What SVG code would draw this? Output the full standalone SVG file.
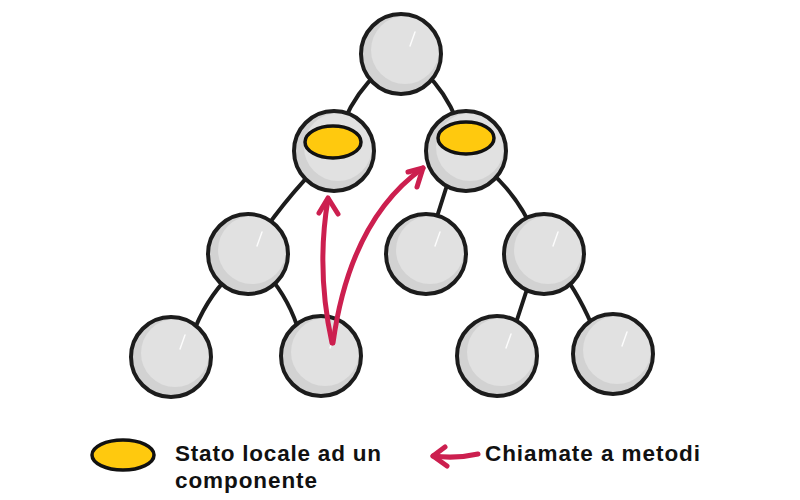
<svg xmlns="http://www.w3.org/2000/svg" xmlns:xlink="http://www.w3.org/1999/xlink" width="800" height="500" viewBox="0 0 800 500">
<style>
.edge{fill:none;stroke:#1c1c1c;stroke-width:4;stroke-linecap:round}
.call{fill:none;stroke:#cc1f4f;stroke-width:5;stroke-linecap:round;stroke-linejoin:round}
.state{fill:#ffc90e;stroke:#111;stroke-width:3.5}
.lbl{font-family:"Liberation Sans",Arial,sans-serif;font-weight:700;font-size:22.5px;fill:#111}
</style>
<defs>
<g id="ball">
<circle r="40" fill="#d2d2d2"/>
<circle cx="4" cy="-4" r="34" fill="#e1e1e1"/>
<path d="M14,-22 L9,-8" stroke="#fff" stroke-width="1.5" stroke-linecap="round" opacity="0.9"/>
<circle r="40" fill="none" stroke="#1c1c1c" stroke-width="4"/>
</g>
</defs>
<rect width="800" height="500" fill="#fff"/>
<g id="connectors">
<path class="edge" d="M402,55 Q350,85 334,151"/>
<path class="edge" d="M402,55 Q452,85 466,151"/>
<path class="edge" d="M334,151 Q290,190 248,254"/>
<path class="edge" d="M455,160 L428,245"/>
<path class="edge" d="M488,170 Q518,195 535,235"/>
<path class="edge" d="M230,275 Q205,300 192,336"/>
<path class="edge" d="M268,275 Q290,300 300,335"/>
<path class="edge" d="M530,280 L512,335"/>
<path class="edge" d="M560,270 Q580,295 596,335"/>
</g>
<g id="root"><use xlink:href="#ball" x="401" y="54"/></g>
<g id="n-left"><use xlink:href="#ball" x="334" y="151"/><ellipse class="state" cx="333" cy="142" rx="28" ry="16"/></g>
<g id="n-right"><use xlink:href="#ball" x="466" y="151"/><ellipse class="state" cx="466" cy="138" rx="28" ry="16"/></g>
<g id="n-ll"><use xlink:href="#ball" x="248" y="254"/></g>
<g id="n-rm"><use xlink:href="#ball" x="426" y="254"/></g>
<g id="n-rr"><use xlink:href="#ball" x="544" y="254"/></g>
<g id="n-lll"><use xlink:href="#ball" x="171" y="357"/></g>
<g id="n-llr"><use xlink:href="#ball" x="321" y="356"/></g>
<g id="n-rrl"><use xlink:href="#ball" x="497" y="356"/></g>
<g id="n-rrr"><use xlink:href="#ball" x="613" y="354"/></g>
<g id="calls">
<path class="call" d="M332,343 Q316,270 328,199"/>
<path class="call" d="M319,213 L328,198 L338,214"/>
<path class="call" d="M333,343 Q350,220 423,168"/>
<path class="call" d="M408,172 L423,168 L417,187"/>
</g>
<g id="legend">
<ellipse class="state" cx="123" cy="455" rx="31" ry="15"/>
<text class="lbl" x="175" y="461" textLength="206" lengthAdjust="spacing">Stato locale ad un</text>
<text class="lbl" x="175" y="488" textLength="142" lengthAdjust="spacing">componente</text>
<path class="call" d="M478,454 Q456,459 433,456"/>
<path class="call" d="M445,447 L433,456 L447,466"/>
<text class="lbl" x="485" y="461" textLength="215" lengthAdjust="spacing">Chiamate a metodi</text>
</g>
</svg>
